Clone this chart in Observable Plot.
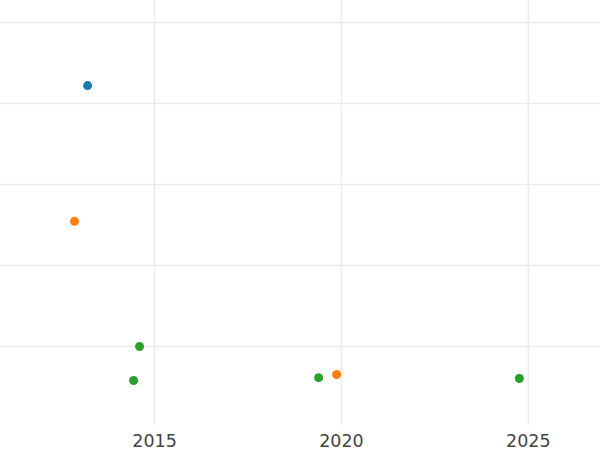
<!DOCTYPE html>
<html>
<head>
<meta charset="utf-8">
<script src="https://cdn.jsdelivr.net/npm/d3@7"></script>
<script src="https://cdn.jsdelivr.net/npm/@observablehq/plot@0.6"></script>
<style>
  html, body { margin: 0; padding: 0; background: #fff; }
  #chart svg { display: block; }
</style>
</head>
<body>
<div id="chart"></div>
<script>
const years  = [2013.21, 2012.86, 2014.60, 2014.44, 2019.39, 2019.87, 2024.76];
const values = [84.4, 50.9, 20.0, 11.6, 12.3, 13.1, 12.1];
const series = ["A", "B", "C", "C", "C", "B", "C"];
const seriesNames = ["A", "B", "C"];
const seriesColors = ["#1f77b4", "#ff7f0e", "#2ca02c"];
const xTicks = [2015, 2020, 2025];
const yTicks = [20, 40, 60, 80, 100];

const data = years.map((x, i) => ({x, y: values[i], s: series[i]}));

const chart = Plot.plot({
  width: 600,
  height: 450,
  marginLeft: 0,
  marginRight: 0,
  marginTop: 0,
  marginBottom: 25,
  style: {fontFamily: "DejaVu Sans", fontSize: "17.5px", color: "#444", background: "#fff"},
  x: {domain: [2010.88, 2026.93], ticks: xTicks, tickFormat: d => String(d), label: null},
  y: {domain: [0.5, 105.4], ticks: yTicks, label: null, axis: null},
  color: {domain: seriesNames, range: seriesColors},
  marks: [
    Plot.ruleY(yTicks, {stroke: "#ebebeb", strokeWidth: 1.5}),
    Plot.ruleX(xTicks, {stroke: "#ebebeb", strokeWidth: 1.5}),
    Plot.axisX({ticks: xTicks, tickSize: 0, tickPadding: 9, tickFormat: d => String(d), label: null, fill: "#444"}),
    Plot.dot(data, {x: "x", y: "y", fill: "s", r: 4.5, stroke: null})
  ]
});
document.getElementById("chart").appendChild(chart);
</script>
</body>
</html>
